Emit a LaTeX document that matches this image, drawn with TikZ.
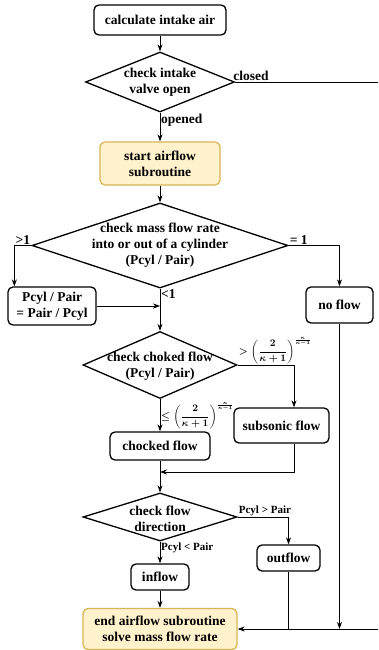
\documentclass[tikz,border=0pt]{standalone}
\usepackage{amsmath}
\usepackage{fontspec}
\setmainfont{Liberation Serif}
\usetikzlibrary{shapes.geometric,arrows.meta}

\definecolor{subfill}{HTML}{FFF2CC}
\definecolor{subdraw}{HTML}{D6B656}

\begin{document}
\begin{tikzpicture}[x=1pt, y=-1pt,
	font=\fontsize{13.5}{16}\selectfont\bfseries,
	procbox/.style={shape=rectangle, draw, rounded corners=5pt, line width=1.3pt, inner sep=0pt, align=center},
	subbox/.style={procbox, draw=subdraw, fill=subfill},
	decision/.style={shape=diamond, draw, line width=1.3pt, inner sep=0pt},
	wire/.style={line width=0.8pt},
	flow/.style={wire, -{Stealth[length=7pt,width=5pt]}},
	lbl/.style={inner sep=1pt},
	cond/.style={lbl, font=\fontsize{11}{13}\selectfont\bfseries},
	ratio/.style={lbl, font=\fontsize{10}{11}\selectfont\bfseries\boldmath}]
	\useasboundingbox (0,0) rectangle (378,650);
	\clip (0,0) rectangle (378,650);
	% Boxes and decisions:
	\node[procbox, minimum width=132pt, minimum height=30pt] (calc) at (160,20) {calculate intake air};
	\node[decision, minimum width=149pt, minimum height=60pt] (valve) at (160,82) {};
	\node[align=center] (valve-txt) at (valve) {check intake\\valve open};
	\node[subbox, minimum width=120pt, minimum height=43pt] (subr) at (160,163.5) {start airflow\\subroutine};
	\node[decision, minimum width=256pt, minimum height=85pt] (mass) at (160,245.5) {};
	\node[align=center] (mass-txt) at (mass) {check mass flow rate\\into or out of a cylinder\\(Pcyl / Pair)};
	\node[procbox, minimum width=88pt, minimum height=38pt] (swap) at (52,306) {Pcyl / Pair\\= Pair / Pcyl};
	\node[procbox, minimum width=67pt, minimum height=36pt] (noflow) at (339.5,305) {no flow};
	\node[decision, minimum width=154pt, minimum height=67pt] (choke) at (160,365) {};
	\node[align=center] (choke-txt) at (160,366.5) {check choked flow\\(Pcyl / Pair)};
	\node[procbox, minimum width=95pt, minimum height=35pt] (subsonic) at (281.5,425.5) {subsonic flow};
	\node[procbox, minimum width=100pt, minimum height=28pt] (choked) at (160,446) {chocked flow};
	\node[decision, minimum width=154pt, minimum height=48pt] (dir) at (160,517) {};
	\node[align=center] (dir-txt) at (160,519) {check flow\\direction};
	\node[procbox, minimum width=63pt, minimum height=26pt] (outflow) at (288.5,558) {outflow};
	\node[procbox, minimum width=58pt, minimum height=26pt] (inflow) at (160,577) {inflow};
	\node[subbox, minimum width=154pt, minimum height=41pt] (fin) at (160,629) {end airflow subroutine\\solve mass flow rate};
	% Bypass rail along the right edge
	\coordinate (railtop) at (390,82);
	\coordinate (railbot) at (390,629);
	\coordinate (merge) at (160,472);
	% Connectors:
	\draw[flow] (calc.south) -- (valve.north);
	\draw[flow] (valve.east) -- (railtop) -- (railbot) -- (fin.east);
	\node[lbl, anchor=south west] (closed) at ([xshift=-3pt]valve.east) {closed};
	\draw[flow] (valve.south) -- (subr.north);
	\node[lbl, anchor=north west] (opened) at (valve.south) {opened};
	\draw[flow] (subr.south) -- (mass.north);
	\draw[flow] (mass.west) -| ([xshift=7pt]swap.north west);
	\node[lbl, anchor=south east] (gt-one) at (mass.west) {>1};
	\draw[flow] (swap.east) -- (swap.east -| mass.south);
	\draw[flow] (mass.east) -| (noflow.north);
	\node[lbl, anchor=south west] (eq-one) at (mass.east) {= 1};
	\draw[flow] (noflow.south) -- (noflow.south |- railbot);
	\draw[flow] (mass.south) -- (choke.north);
	\node[lbl, anchor=north west] (lt-one) at (mass.south) {<1};
	\draw[flow] (choke.east) -| ([xshift=12.5pt]subsonic.north);
	\node[ratio, anchor=south west] (sub-cond) at (choke.east) {$>\left(\dfrac{2}{\kappa+1}\right)^{\frac{\kappa}{\kappa-1}}$};
	\draw[flow] (choke.south) -- (choked.north);
	\node[ratio, anchor=north west] (crit-cond) at ([yshift=-2pt]choke.south) {$\leq\left(\dfrac{2}{\kappa+1}\right)^{\frac{\kappa}{\kappa-1}}$};
	\draw[flow] ([xshift=12.5pt]subsonic.south) |- (merge);
	\draw[flow] (choked.south) -- (dir.north);
	\draw[flow] (dir.east) -| (outflow.north);
	\node[cond, anchor=south west] (out-cond) at (dir.east) {Pcyl > Pair};
	\draw[flow] (dir.south) -- (inflow.north);
	\node[cond, anchor=north west] (in-cond) at (dir.south) {Pcyl < Pair};
	\draw[wire] (outflow.south) -- (outflow.south |- railbot);
	\draw[flow] (inflow.south) -- (fin.north);
\end{tikzpicture}
\end{document}
